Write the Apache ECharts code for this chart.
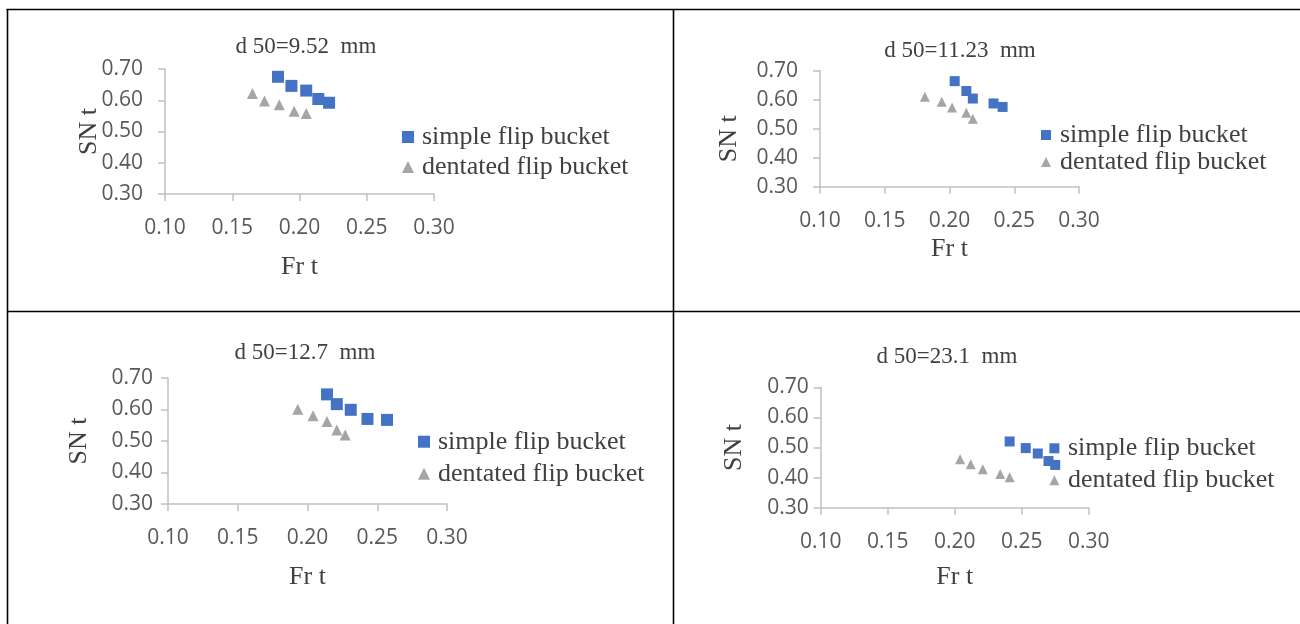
<!DOCTYPE html>
<html>
<head>
<meta charset="utf-8">
<script src="https://cdn.jsdelivr.net/npm/echarts@6/dist/echarts.min.js"></script>
<style>
html,body{margin:0;padding:0;background:#ffffff;}
#chart{width:1300px;height:624px;}
</style>
</head>
<body>
<div id="chart"></div>
<script>
// ---------- data ----------
const X_TICKS = [0.10, 0.15, 0.20, 0.25, 0.30];
const Y_TICKS = [0.30, 0.40, 0.50, 0.60, 0.70];
const PANEL_TITLES = ['d 50=9.52  mm', 'd 50=11.23  mm', 'd 50=12.7  mm', 'd 50=23.1  mm'];
const SERIES_NAMES = ['simple flip bucket', 'dentated flip bucket'];
const X_NAME = 'Fr t';
const Y_NAME = 'SN t';

const p1SimpleFr   = [0.184, 0.194, 0.205, 0.214, 0.222];
const p1SimpleSN   = [0.675, 0.646, 0.631, 0.604, 0.592];
const p1DentatedFr = [0.165, 0.174, 0.185, 0.196, 0.205];
const p1DentatedSN = [0.622, 0.598, 0.586, 0.565, 0.558];

const p2SimpleFr   = [0.204, 0.213, 0.218, 0.234, 0.241];
const p2SimpleSN   = [0.664, 0.630, 0.604, 0.587, 0.575];
const p2DentatedFr = [0.181, 0.194, 0.202, 0.213, 0.218];
const p2DentatedSN = [0.610, 0.593, 0.573, 0.555, 0.534];

const p3SimpleFr   = [0.214, 0.221, 0.231, 0.243, 0.257];
const p3SimpleSN   = [0.648, 0.617, 0.599, 0.570, 0.567];
const p3DentatedFr = [0.193, 0.204, 0.214, 0.221, 0.227];
const p3DentatedSN = [0.601, 0.580, 0.562, 0.535, 0.519];

const p4SimpleFr   = [0.241, 0.253, 0.262, 0.270, 0.275];
const p4SimpleSN   = [0.520, 0.498, 0.480, 0.455, 0.442];
const p4DentatedFr = [0.204, 0.212, 0.221, 0.234, 0.241];
const p4DentatedSN = [0.461, 0.444, 0.428, 0.412, 0.401];

const PANEL_DATA = [
  [[p1SimpleFr, p1SimpleSN], [p1DentatedFr, p1DentatedSN]],
  [[p2SimpleFr, p2SimpleSN], [p2DentatedFr, p2DentatedSN]],
  [[p3SimpleFr, p3SimpleSN], [p3DentatedFr, p3DentatedSN]],
  [[p4SimpleFr, p4SimpleSN], [p4DentatedFr, p4DentatedSN]]
];

// ---------- layout / style ----------
const LAYOUT = [
  {grid:[165, 69, 269, 125],     title:[306, 47],  xNameGap:60, yNameGap:63, yNamePad:[0,0,0,0],  yLabMargin:22,
   legend:[402, 124, 4, 12, 3],  sq:12, tri:11},
  {grid:[820, 70.7, 259, 116],   title:[960, 51],  xNameGap:49, yNameGap:78, yNamePad:[0,20,0,0], yLabMargin:22,
   legend:[1041, 122, 1, 10, 4], sq:10, tri:10},
  {grid:[168, 378, 279, 126],    title:[305, 353], xNameGap:60, yNameGap:76, yNamePad:[0,0,0,0],  yLabMargin:15,
   legend:[418, 428.7, 6, 12, 3], sq:12, tri:11},
  {grid:[820.7, 387.3, 268, 120.4], title:[947, 357], xNameGap:56, yNameGap:74, yNamePad:[0,0,0,0], yLabMargin:12,
   legend:[1049.4, 435.3, 6, 10, 3.6], sq:10, tri:10}
];

const SERIF = '"Liberation Serif", "Times New Roman", serif';
const SANS = '"Open Sans", "Noto Sans", sans-serif';
const AXIS_COLOR = '#c0c0c0';
const COLORS = ['#4472C4', '#A5A5A5'];
const SYMBOLS = ['rect', 'triangle'];

const xInterval = +(X_TICKS[1] - X_TICKS[0]).toFixed(6);
const yInterval = +(Y_TICKS[1] - Y_TICKS[0]).toFixed(6);

const grids = [], xAxes = [], yAxes = [], series = [], titles = [], legends = [];

LAYOUT.forEach((L, i) => {
  grids.push({left: L.grid[0], top: L.grid[1], width: L.grid[2], height: L.grid[3],
              containLabel: false, outerBoundsMode: 'none'});
  xAxes.push({
    gridIndex: i, type: 'value',
    min: X_TICKS[0], max: X_TICKS[X_TICKS.length - 1], interval: xInterval,
    splitLine: {show: false},
    axisLine: {show: true, lineStyle: {color: AXIS_COLOR, width: 1.5}},
    axisTick: {show: true, inside: false, length: 7, lineStyle: {color: AXIS_COLOR, width: 1.5}},
    axisLabel: {fontFamily: SANS, fontSize: 21, color: '#595959', margin: 24,
                formatter: v => v.toFixed(2)},
    name: X_NAME, nameLocation: 'middle', nameGap: L.xNameGap, nameMoveOverlap: false,
    nameTextStyle: {fontFamily: SERIF, fontSize: 26, color: '#404040'}
  });
  yAxes.push({
    gridIndex: i, type: 'value',
    min: Y_TICKS[0], max: Y_TICKS[Y_TICKS.length - 1], interval: yInterval,
    splitLine: {show: false},
    axisLine: {show: true, lineStyle: {color: AXIS_COLOR, width: 1.5}},
    axisTick: {show: true, inside: false, length: 7, lineStyle: {color: AXIS_COLOR, width: 1.5}},
    axisLabel: {fontFamily: SANS, fontSize: 21, color: '#595959', margin: L.yLabMargin,
                formatter: v => v.toFixed(2)},
    name: Y_NAME, nameLocation: 'middle', nameGap: L.yNameGap, nameRotate: 90, nameMoveOverlap: false,
    nameTextStyle: {fontFamily: SERIF, fontSize: 26, color: '#404040', padding: L.yNamePad}
  });
  PANEL_DATA[i].forEach((pair, k) => {
    series.push({
      type: 'scatter', name: SERIES_NAMES[k], xAxisIndex: i, yAxisIndex: i,
      symbol: SYMBOLS[k], symbolSize: k === 0 ? L.sq : L.tri,
      itemStyle: {color: COLORS[k], opacity: 1},
      emphasis: {disabled: true},
      data: pair[0].map((x, j) => [x, pair[1][j]])
    });
  });
  titles.push({
    text: PANEL_TITLES[i], left: L.title[0], top: L.title[1] - 12, textAlign: 'center', padding: 0,
    textStyle: {fontFamily: SERIF, fontSize: 23, fontWeight: 'normal', color: '#404040', lineHeight: 24}
  });
  legends.push({
    left: L.legend[0], top: L.legend[1], orient: 'vertical', padding: 0,
    itemGap: L.legend[2], itemWidth: L.legend[3], itemHeight: L.legend[3],
    selectedMode: false,
    data: [{name: SERIES_NAMES[0], icon: 'rect'}, {name: SERIES_NAMES[1], icon: 'triangle'}],
    textStyle: {fontFamily: SERIF, fontSize: 26, color: '#404040', lineHeight: 26,
                padding: [0, 0, 0, L.legend[4]]}
  });
});

const BORDER = {stroke: '#000000', lineWidth: 1.6};
const graphic = [
  {type: 'line', shape: {x1: 6.5, y1: 9.5, x2: 1300, y2: 9.5}, style: BORDER},
  {type: 'line', shape: {x1: 7.5, y1: 9, x2: 7.5, y2: 624}, style: BORDER},
  {type: 'line', shape: {x1: 673.5, y1: 9, x2: 673.5, y2: 624}, style: BORDER},
  {type: 'line', shape: {x1: 7, y1: 311.5, x2: 1300, y2: 311.5}, style: BORDER}
];

const chart = echarts.init(document.getElementById('chart'), null, {renderer: 'canvas'});
chart.setOption({
  animation: false,
  backgroundColor: '#ffffff',
  title: titles,
  legend: legends,
  grid: grids,
  xAxis: xAxes,
  yAxis: yAxes,
  series: series,
  graphic: graphic
});
</script>
</body>
</html>
